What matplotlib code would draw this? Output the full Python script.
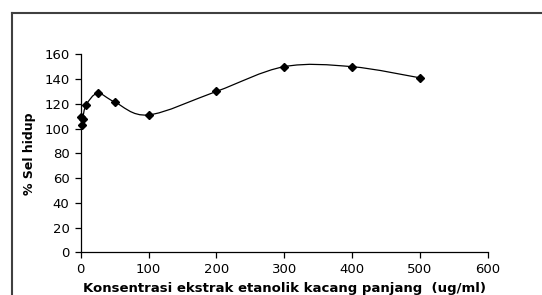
import matplotlib
matplotlib.use("Agg")
import matplotlib.pyplot as plt
import numpy as np
from matplotlib.path import Path
from matplotlib.patches import PathPatch
from matplotlib.lines import Line2D

plt.rcParams['font.family'] = ['DejaVu Sans']

concentration = [0, 1.5, 3, 8, 25, 50, 100, 200, 300, 400, 500]
viability = [109, 103, 108, 119, 128.5, 121.5, 111, 130, 150, 150, 141]
x_ticks = [0, 100, 200, 300, 400, 500, 600]
y_ticks = [0, 20, 40, 60, 80, 100, 120, 140, 160]
x_label = "Konsentrasi ekstrak etanolik kacang panjang  (ug/ml)"
y_label = "% Sel hidup"

W, H = 542, 295
fig = plt.figure(figsize=(W / 100, H / 100), dpi=100)
ax = fig.add_axes([80.7 / W, 1 - 252.3 / H, (487.7 - 80.7) / W, (252.3 - 54.3) / H])

# Excel-style smoothed line (cubic Bezier through points)
pts = np.column_stack([concentration, viability]).astype(float)
n = len(pts)
verts = [tuple(pts[0])]
codes = [Path.MOVETO]
for i in range(n - 1):
    p0 = pts[i - 1] if i > 0 else pts[i]
    p1 = pts[i]
    p2 = pts[i + 1]
    p3 = pts[i + 2] if i + 2 < n else pts[i + 1]
    c1 = p1 + (p2 - p0) / 6.0
    c2 = p2 - (p3 - p1) / 6.0
    verts += [tuple(c1), tuple(c2), tuple(p2)]
    codes += [Path.CURVE4] * 3
ax.add_patch(PathPatch(Path(verts, codes), facecolor='none', edgecolor='black', lw=0.9))
ax.plot(concentration, viability, linestyle='none', marker='D', markersize=4,
        color='black', clip_on=False)

ax.set_xlim(0, 600)
ax.set_ylim(0, 160)
ax.set_xticks(x_ticks)
ax.set_yticks(y_ticks)
ax.spines['top'].set_visible(False)
ax.spines['right'].set_visible(False)
for s in ['left', 'bottom']:
    ax.spines[s].set_linewidth(0.9)
    ax.spines[s].set_color('black')
ax.tick_params(direction='out', length=4, width=0.9, labelsize=9.5, pad=4)
ax.set_xlabel(x_label, fontsize=9.5, fontweight='bold', labelpad=4)
ax.set_ylabel(y_label, fontsize=9, fontweight='bold', labelpad=6)

# outer frame (top and left edges visible)
fx = 12 / W
fy = 1 - 13 / H
fig.add_artist(Line2D([fx, 1.0], [fy, fy], transform=fig.transFigure,
                      color='#404040', lw=1.5))
fig.add_artist(Line2D([fx, fx], [fy, 0.0], transform=fig.transFigure,
                      color='#404040', lw=1.5))

fig.savefig("out.png", dpi=100)
